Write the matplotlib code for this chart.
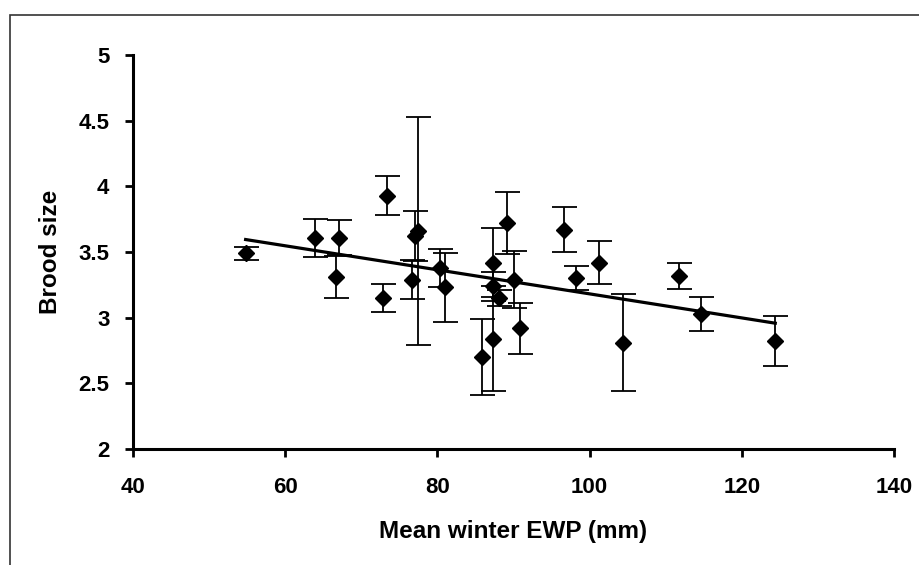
import numpy as np
import matplotlib.pyplot as plt
from matplotlib.patches import Rectangle

# mean winter EWP (mm), brood size, error
ewp = [54.8, 63.9, 67.1, 66.7, 73.4, 72.8, 77.0, 77.5, 76.7, 80.3, 81.0, 85.8, 87.3,
       87.3, 87.3, 88.1, 89.1, 90.1, 90.9, 96.6, 98.2, 101.2, 104.4, 111.8, 114.7, 124.4]
brood = [3.49, 3.61, 3.61, 3.31, 3.93, 3.15, 3.62, 3.66, 3.29, 3.38, 3.23, 2.70, 3.42,
         3.24, 2.84, 3.15, 3.72, 3.29, 2.92, 3.67, 3.30, 3.42, 2.81, 3.32, 3.03, 2.82]
err = [0.05, 0.145, 0.135, 0.16, 0.15, 0.11, 0.19, 0.87, 0.15, 0.145, 0.26, 0.29, 0.26,
       0.11, 0.40, 0.06, 0.235, 0.22, 0.195, 0.17, 0.09, 0.16, 0.37, 0.10, 0.13, 0.19]

x_ticks = [40, 60, 80, 100, 120, 140]
y_ticks = [2, 2.5, 3, 3.5, 4, 4.5, 5]
y_labels = ["2", "2.5", "3", "3.5", "4", "4.5", "5"]

plt.rcParams['font.family'] = ['Liberation Sans', 'DejaVu Sans']
plt.rcParams['font.weight'] = 'bold'

fig = plt.figure(figsize=(9.2, 5.65), dpi=100)
ax = fig.add_axes([133 / 920, 116 / 565, 761 / 920, 394 / 565])

# outer chart frame (cut at right and bottom like the original)
fig.patches.append(Rectangle((10 / 920, -0.1), 1.2, (565 - 15) / 565 + 0.1,
                             transform=fig.transFigure, fill=False,
                             edgecolor="#333333", linewidth=1.2))

ax.errorbar(ewp, brood, yerr=err, fmt="D", color="black", markersize=8,
            ecolor="black", elinewidth=1.3, capsize=9, capthick=1.3, zorder=3)

# linear trend line
k, b = np.polyfit(ewp, brood, 1)
xs = np.array([min(ewp), max(ewp)])
ax.plot(xs, k * xs + b, "-", color="black", linewidth=2.3, zorder=2)

ax.set_xlim(40, 140)
ax.set_ylim(2, 5)
ax.set_xticks(x_ticks)
ax.set_yticks(y_ticks)
ax.set_yticklabels(y_labels)

for s in ["top", "right"]:
    ax.spines[s].set_visible(False)
for s in ["left", "bottom"]:
    ax.spines[s].set_linewidth(2.2)
ax.tick_params(axis="both", direction="out", length=6, width=2, labelsize=16)
ax.tick_params(axis="x", pad=14)
ax.tick_params(axis="y", pad=11)

ax.set_xlabel("Mean winter EWP (mm)", fontsize=17.5, fontweight="bold", labelpad=16)
ax.set_ylabel("Brood size", fontsize=17.5, fontweight="bold", labelpad=12)

fig.savefig("out.png", dpi=100)
